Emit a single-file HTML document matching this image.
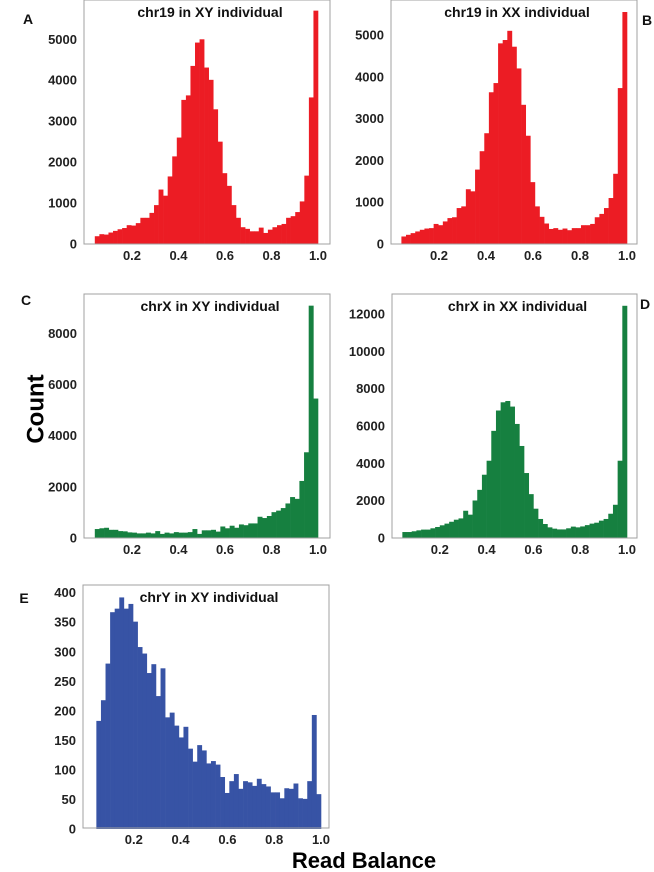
<!DOCTYPE html>
<html><head><meta charset="utf-8"><style>
html,body{margin:0;padding:0;background:#fff;}
svg{display:block;font-family:"Liberation Sans",Arial,sans-serif;}
</style></head><body>
<svg id="fig" width="654" height="872" viewBox="0 0 654 872" xmlns="http://www.w3.org/2000/svg">
<text x="36" y="409" transform="rotate(-90 36 409)" text-anchor="middle" dominant-baseline="central" font-size="24" font-weight="bold">Count</text>
<text x="364" y="868" text-anchor="middle" font-size="22" font-weight="bold">Read Balance</text>
</svg>
<script>
const xTicks = [0.2, 0.4, 0.6, 0.8, 1.0];
const xTickLabels = ["0.2", "0.4", "0.6", "0.8", "1.0"];
const binStart = 0.04, binEnd = 1.0;
const valuesA = [190,240,230,280,320,360,390,460,450,510,640,640,760,950,1330,1180,1650,2140,2600,3520,3630,4350,4920,5000,4310,4010,3290,2500,1730,1420,950,640,410,370,310,310,400,270,350,410,460,490,640,680,780,1040,1670,3580,5700];
const valuesB = [180,220,260,300,340,370,380,480,450,540,620,640,860,900,1310,1260,1780,2220,2650,3630,3850,4800,4880,5100,4720,4200,3330,2590,1480,900,650,490,360,380,340,370,330,380,380,450,450,480,640,720,860,1100,1680,3730,5550];
const valuesC = [350,380,400,320,320,270,260,220,210,180,180,210,180,270,160,210,180,230,210,210,230,350,160,300,300,320,250,450,380,480,400,530,500,570,570,830,780,860,1010,1070,1170,1350,1600,1530,2230,3350,9080,5450];
const valuesD = [320,320,360,410,450,450,520,590,680,770,870,980,1050,1460,1250,2010,2580,3390,4140,5740,6830,7270,7340,7040,6110,4930,3480,2350,1570,1020,750,570,500,460,460,520,610,570,620,690,770,820,930,1020,1300,1780,4140,12440];
const valuesE = [183,218,280,367,373,392,373,381,351,308,297,264,279,225,272,189,197,175,155,173,136,114,142,133,111,115,109,88,61,81,93,68,81,79,73,85,76,72,62,62,52,69,68,77,52,51,81,193,59];
const yTicksA = [0,1000,2000,3000,4000,5000];
const yTicksB = [0,1000,2000,3000,4000,5000];
const yTicksC = [0,2000,4000,6000,8000];
const yTicksD = [0,2000,4000,6000,8000,10000,12000];
const yTicksE = [0,50,100,150,200,250,300,350,400];

const NS = "http://www.w3.org/2000/svg";
const svg = document.getElementById('fig');
function mk(tag, attrs, parent){const e=document.createElementNS(NS,tag);for(const k in attrs)e.setAttribute(k,attrs[k]);(parent||svg).appendChild(e);return e;}

function panel(id, letter, lx, ly, title, vals, yt, ymax, color, fr, x0, x1, yb, ytop){
  const g = mk('g', {});
  
  
  const X = v => x0 + (x1 - x0) * v;
  const Y = v => yb - (yb - ytop) * v / ymax;
  const bw = (binEnd - binStart) / vals.length;
  vals.forEach((v, i) => {
    const xa = X(binStart + i * bw), xb = X(binStart + (i + 1) * bw);
    const r = mk('rect', {x: xa, y: Y(v), width: xb - xa + 0.3, height: yb - Y(v), fill: color}, g);
    
    
  });
  const f = mk('rect', {x: fr.l, y: fr.t, width: fr.r - fr.l, height: fr.b - fr.t, fill: 'none', stroke: '#a0a0a0', 'stroke-width': 1}, g);
  
  
  yt.forEach(t => {
    const tx = mk('text', {x: fr.l - 7, y: Y(t) + 4.5, 'text-anchor': 'end', 'font-size': 13, 'font-weight': 'bold', fill: '#222'}, g);
    tx.textContent = String(t);
    
    
  });
  xTicks.forEach((t, i) => {
    const tx = mk('text', {x: X(t), y: fr.b + 16, 'text-anchor': 'middle', 'font-size': 13, 'font-weight': 'bold', fill: '#222'}, g);
    tx.textContent = xTickLabels[i];
    
    
  });
  const tt = mk('text', {x: (fr.l + fr.r) / 2 + 3, y: fr.t + 17, 'text-anchor': 'middle', 'font-size': 14, 'font-weight': 'bold', fill: '#111'}, g);
  tt.textContent = title;
  
  
  const lt = mk('text', {x: lx, y: ly, 'text-anchor': 'middle', 'font-size': 14, 'font-weight': 'bold', fill: '#111'}, g);
  lt.textContent = letter;
  
  
}

panel('a', 'A', 28, 24, 'chr19 in XY individual', valuesA, yTicksA, 5000, '#ec1c24', {l:84,t:0,r:330,b:244}, 85.5, 318, 244, 39.3);
panel('b', 'B', 647, 25, 'chr19 in XX individual', valuesB, yTicksB, 5000, '#ec1c24', {l:391,t:0,r:637,b:244}, 392, 627, 244, 35);
panel('c', 'C', 26, 305, 'chrX in XY individual', valuesC, yTicksC, 8000, '#168040', {l:84,t:294,r:330,b:538}, 85.5, 318, 538, 333.3);
panel('d', 'D', 645, 309, 'chrX in XX individual', valuesD, yTicksD, 12000, '#168040', {l:392,t:294,r:637,b:538}, 393, 627, 538, 314);
panel('e', 'E', 24, 603, 'chrY in XY individual', valuesE, yTicksE, 400, '#3753a5', {l:83,t:585,r:329,b:828}, 87, 321, 829, 592.7);
</script>
</body></html>
